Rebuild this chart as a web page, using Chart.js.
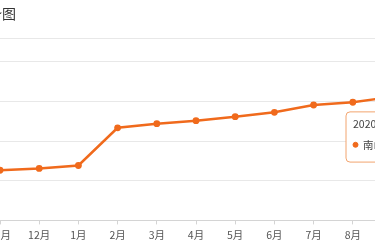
<!DOCTYPE html>
<html><head><meta charset="utf-8">
<script src="https://cdn.jsdelivr.net/npm/chart.js@4/dist/chart.umd.min.js"></script>
<style>
html,body{margin:0;padding:0;width:375px;height:250px;overflow:hidden;background:#fff}
body{position:relative}
#wrap{position:absolute;left:-20px;top:0;width:512px;height:250px}
#title{position:absolute;left:-184px;width:200px;top:6px;text-align:right;font:14px/14px "Noto Sans CJK SC",sans-serif;color:#333;white-space:nowrap}
</style></head><body>
<div id="wrap"><canvas id="c" width="512" height="250"></canvas></div>
<div id="title">南山区房价走势图</div>
<script>
const categories = ['11月','12月','1月','2月','3月','4月','5月','6月','7月','8月','9月'];
const seriesName = '南山区';
const prices = [25300,26200,27700,46700,48800,50300,52300,54500,58200,59600,62300];
const yTicks = [0,20000,40000,60000,80000,92000];
const tooltipYear = '2020年';

const lineColor = '#f06a1c';
const axisColor = '#d4d4d4';
const gridColor = '#e8e8e8';
const fontFamily = '"Noto Sans CJK SC", sans-serif';

Chart.Tooltip.positioners.fixedBox = function(items) {
  if (!items.length) return false;
  const el = items[0].element;
  return { x: el.x - 46 + 4, y: el.y + 15, xAlign: 'left', yAlign: 'top' };
};

const chart = new Chart(document.getElementById('c'), {
  type: 'line',
  data: {
    labels: categories,
    datasets: [{
      label: seriesName,
      data: prices,
      borderColor: lineColor,
      backgroundColor: lineColor,
      borderWidth: 2.5,
      tension: 0,
      pointRadius: 3.4,
      pointBorderWidth: 0,
      pointBackgroundColor: lineColor,
      fill: false
    }]
  },
  options: {
    responsive: false,
    animation: false,
    events: [],
    layout: { padding: { left: 20, right: 100, top: 38, bottom: 5 } },
    plugins: {
      legend: { display: false },
      title: { display: false },
      tooltip: {
        enabled: true,
        position: 'fixedBox',
        backgroundColor: 'rgba(255,255,255,0.96)',
        borderColor: '#f2a46e',
        borderWidth: 1,
        cornerRadius: 4,
        caretSize: 0,
        caretPadding: 0,
        padding: { top: 6, left: 7, right: 10, bottom: 11 },
        titleColor: '#444',
        bodyColor: '#444',
        titleFont: { family: fontFamily, size: 10.5, weight: 'normal' },
        bodyFont: { family: fontFamily, size: 10.5 },
        titleMarginBottom: 8,
        displayColors: true,
        usePointStyle: true,
        boxWidth: 5,
        boxHeight: 5,
        boxPadding: 3,
        callbacks: {
          title: items => tooltipYear + items[0].label,
          label: item => item.dataset.label + ': ' + item.formattedValue,
          labelPointStyle: () => ({ pointStyle: 'circle', rotation: 0 }),
          labelColor: () => ({ borderColor: lineColor, backgroundColor: lineColor, borderWidth: 0 })
        }
      }
    },
    scales: {
      x: {
        offset: false,
        grid: { drawOnChartArea: false, drawTicks: true, tickLength: 4, tickColor: axisColor },
        border: { color: axisColor },
        ticks: { color: '#555', font: { family: fontFamily, size: 10.5 }, padding: 4, maxRotation: 0, autoSkip: false }
      },
      y: {
        min: yTicks[0],
        max: yTicks[yTicks.length - 1],
        afterBuildTicks: s => { s.ticks = yTicks.map(v => ({ value: v })); },
        ticks: { display: false },
        grid: { drawTicks: false, color: ctx => (ctx.tick && ctx.tick.value === 0) ? axisColor : gridColor },
        border: { display: false }
      }
    }
  }
});
chart.tooltip.setActiveElements([{ datasetIndex: 0, index: categories.length - 1 }], { x: 0, y: 0 });
chart.draw();
</script>
</body></html>
